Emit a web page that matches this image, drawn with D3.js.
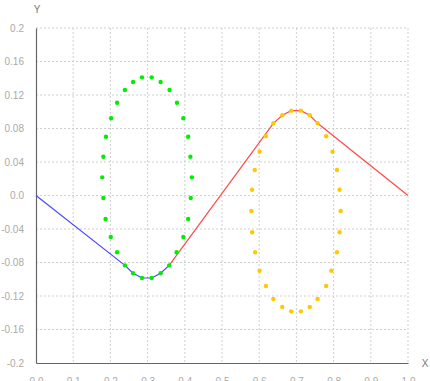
<!DOCTYPE html>
<html>
<head>
<meta charset="utf-8">
<script src="https://cdn.jsdelivr.net/npm/d3@7"></script>
<style>
  body { margin: 0; background: #fff; }
  text { font-family: "Liberation Sans", Arial, sans-serif; }
</style>
</head>
<body>
<svg id="chart"></svg>
<script>
// axis ticks
const xTicks = [0, 0.1, 0.2, 0.3, 0.4, 0.5, 0.6, 0.7, 0.8, 0.9, 1.0];
const xTickLabels = ["0.0", "0.1", "0.2", "0.3", "0.4", "0.5", "0.6", "0.7", "0.8", "0.9", "1.0"];
const yTicks = [0.2, 0.16, 0.12, 0.08, 0.04, 0, -0.04, -0.08, -0.12, -0.16, -0.2];
const yTickLabels = ["0.2", "0.16", "0.12", "0.08", "0.04", "0.0", "-0.04", "-0.08", "-0.12", "-0.16", "-0.2"];

// blue line (left part)
const blueLine = [[0, 0], [0.239, -0.0834], [0.261, -0.0929], [0.285, -0.0985],
                  [0.311, -0.0985], [0.335, -0.0929], [0.358, -0.0834]];
// red line (right part)
const redLine = [[0.358, -0.0834], [0.638, 0.0862], [0.662, 0.0958], [0.686, 0.1013],
                 [0.712, 0.1013], [0.736, 0.0958], [0.757, 0.0862], [1.0, 0]];

// green dots (left loop)
const greenX = [0.285, 0.311, 0.261, 0.335, 0.239, 0.359, 0.218, 0.379, 0.202, 0.396,
                0.188, 0.409, 0.181, 0.415, 0.178, 0.419, 0.181, 0.416, 0.187, 0.409,
                0.201, 0.396, 0.218, 0.378, 0.239, 0.358, 0.261, 0.335, 0.285, 0.311];
const greenY = [0.1411, 0.1411, 0.1355, 0.1355, 0.126, 0.126, 0.1108, 0.1108, 0.0922, 0.0922,
                0.0702, 0.0702, 0.0463, 0.0463, 0.0217, 0.0217, -0.003, -0.003, -0.028, -0.028,
                -0.0496, -0.0496, -0.0678, -0.0678, -0.0834, -0.0834, -0.0929, -0.0929, -0.0985, -0.0985];

// orange dots (right loop)
const orangeX = [0.686, 0.712, 0.662, 0.736, 0.638, 0.757, 0.618, 0.780, 0.601, 0.797,
                 0.588, 0.809, 0.581, 0.816, 0.579, 0.819, 0.581, 0.816, 0.589, 0.809,
                 0.601, 0.794, 0.618, 0.780, 0.638, 0.757, 0.662, 0.736, 0.686, 0.712];
const orangeY = [0.1013, 0.1013, 0.0958, 0.0958, 0.0862, 0.0862, 0.0707, 0.0707, 0.0523, 0.0523,
                 0.0304, 0.0304, 0.0069, 0.0069, -0.0185, -0.0185, -0.0439, -0.0439, -0.0678, -0.0678,
                 -0.0898, -0.0898, -0.108, -0.108, -0.1236, -0.1236, -0.1331, -0.1331, -0.1383, -0.1383];

const svgWidth = 430, svgHeight = 381;
const margin = {top: 28, right: 22, bottom: 18, left: 36},
    width = svgWidth - margin.left - margin.right,
    height = svgHeight - margin.top - margin.bottom;

const chart = d3.select('#chart')
    .attr("width", svgWidth)
    .attr("height", svgHeight);

const g = chart.append("g")
    .attr("transform", `translate(${margin.left},${margin.top})`);

var xScale = d3.scaleLinear().domain([0, 1]).range([0, width]);
var yScale = d3.scaleLinear().domain([-0.2, 0.2]).range([height, 0]);

// grid lines
g.append("g")
    .selectAll("line")
    .data(xTicks.slice(1))
    .enter().append("line")
    .attr("x1", d => xScale(d)).attr("x2", d => xScale(d))
    .attr("y1", 0).attr("y2", height)
    .attr("stroke", "#cfcfcf")
    .attr("stroke-dasharray", "2,2");

g.append("g")
    .selectAll("line")
    .data(yTicks.slice(0, -1))
    .enter().append("line")
    .attr("x1", 0).attr("x2", width)
    .attr("y1", d => yScale(d)).attr("y2", d => yScale(d))
    .attr("stroke", "#cfcfcf")
    .attr("stroke-dasharray", "2,2");

// x axis
var xAxis = d3.axisBottom(xScale)
    .tickValues(xTicks)
    .tickSize(0)
    .tickPadding(15)
    .tickFormat((d, i) => xTickLabels[i]);

var yAxis = d3.axisLeft(yScale)
    .tickValues(yTicks)
    .tickSize(0)
    .tickPadding(12)
    .tickFormat((d, i) => yTickLabels[i]);

const gx = g.append("g")
    .attr("transform", "translate(0," + height + ")")
    .call(xAxis);
const gy = g.append("g").call(yAxis);

[gx, gy].forEach(a => {
    a.select(".domain").attr("stroke", "#666").attr("stroke-width", 1.2);
    a.selectAll("text").attr("fill", "#aaa").style("font-size", "10px")
        .style("font-family", "'Liberation Sans', Arial, sans-serif");
});

// axis titles
g.append("text")
    .attr("x", 1).attr("y", -15)
    .attr("text-anchor", "middle")
    .attr("fill", "#777")
    .style("font-size", "10px")
    .text("Y");

g.append("text")
    .attr("x", width + 17).attr("y", height + 4)
    .attr("text-anchor", "middle")
    .attr("fill", "#777")
    .style("font-size", "10px")
    .text("X");

// lines
var valueline = d3.line()
    .x(d => xScale(d[0]))
    .y(d => yScale(d[1]));

g.append("path")
    .datum(blueLine)
    .attr("d", valueline)
    .attr("fill", "none")
    .attr("stroke", "#4848ff")
    .attr("stroke-width", 1.2);

g.append("path")
    .datum(redLine)
    .attr("d", valueline)
    .attr("fill", "none")
    .attr("stroke", "#ff4848")
    .attr("stroke-width", 1.2);

// dots
g.append("g").selectAll("circle")
    .data(greenX.map((x, i) => [x, greenY[i]]))
    .enter().append("circle")
    .attr("cx", d => xScale(d[0]))
    .attr("cy", d => yScale(d[1]))
    .attr("r", 2.2)
    .attr("fill", "#00ee00");

g.append("g").selectAll("circle")
    .data(orangeX.map((x, i) => [x, orangeY[i]]))
    .enter().append("circle")
    .attr("cx", d => xScale(d[0]))
    .attr("cy", d => yScale(d[1]))
    .attr("r", 2.2)
    .attr("fill", "#ffc800");
</script>
</body>
</html>
